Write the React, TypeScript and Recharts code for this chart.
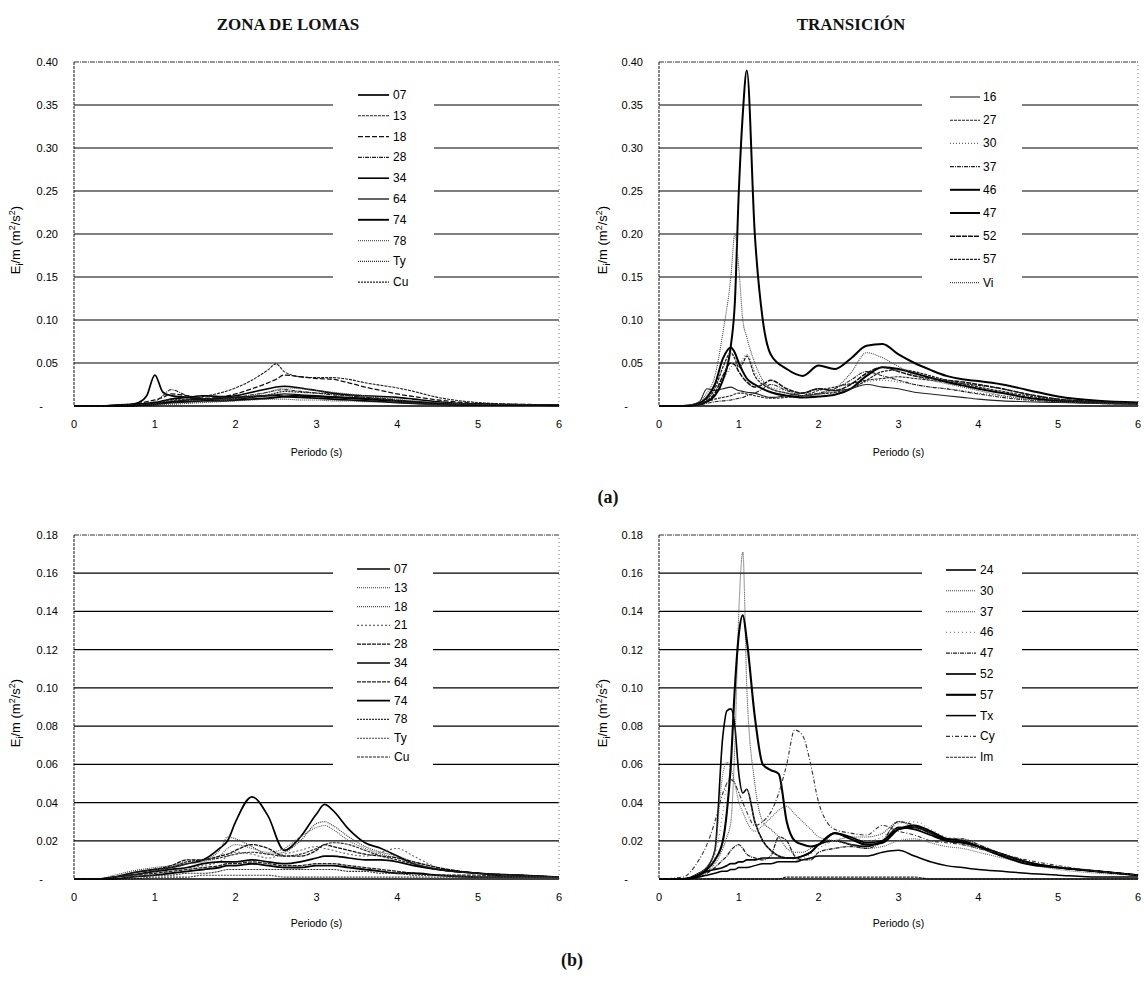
import React from 'react';
import { LineChart, Line, XAxis, YAxis, ReferenceLine } from 'recharts';

const SANS = '"Liberation Sans", Arial, Helvetica, sans-serif';
const SERIF = '"Liberation Serif", "Times New Roman", serif';

// ---------- (a) Zona de Lomas ----------
const periodsLomasA = [0, 0.3, 0.5, 0.7, 0.8, 0.9, 1.0, 1.1, 1.2, 1.4, 1.6, 1.8, 2.0, 2.2, 2.4, 2.5, 2.6, 2.8, 3.0, 3.2, 3.4, 3.6, 3.8, 4.0, 4.2, 4.5, 5.0, 5.5, 6.0];
const namesLomasA = ['07', '13', '18', '28', '34', '64', '74', '78', 'Ty', 'Cu'];
const lomasA_07 = [0, 0, 0.001, 0.002, 0.004, 0.012, 0.036, 0.016, 0.012, 0.01, 0.008, 0.009, 0.01, 0.011, 0.012, 0.012, 0.011, 0.01, 0.009, 0.008, 0.007, 0.006, 0.005, 0.004, 0.003, 0.002, 0.001, 0.001, 0.001];
const lomasA_13 = [0, 0, 0, 0.001, 0.002, 0.003, 0.004, 0.005, 0.006, 0.008, 0.011, 0.015, 0.021, 0.03, 0.042, 0.049, 0.04, 0.034, 0.033, 0.033, 0.031, 0.027, 0.024, 0.021, 0.017, 0.01, 0.004, 0.002, 0.001];
const lomasA_18 = [0, 0, 0.001, 0.002, 0.003, 0.005, 0.007, 0.01, 0.014, 0.012, 0.009, 0.01, 0.014, 0.02, 0.027, 0.031, 0.036, 0.034, 0.032, 0.031, 0.027, 0.022, 0.018, 0.014, 0.011, 0.007, 0.003, 0.002, 0.001];
const lomasA_28 = [0, 0, 0, 0.001, 0.002, 0.003, 0.005, 0.012, 0.019, 0.012, 0.009, 0.008, 0.01, 0.013, 0.016, 0.018, 0.019, 0.017, 0.015, 0.013, 0.012, 0.01, 0.009, 0.007, 0.005, 0.003, 0.002, 0.001, 0.001];
const lomasA_34 = [0, 0, 0, 0.001, 0.002, 0.003, 0.004, 0.006, 0.008, 0.01, 0.012, 0.011, 0.012, 0.016, 0.02, 0.022, 0.023, 0.021, 0.018, 0.015, 0.013, 0.012, 0.011, 0.01, 0.008, 0.005, 0.002, 0.001, 0.001];
const lomasA_64 = [0, 0, 0, 0.001, 0.001, 0.002, 0.003, 0.004, 0.005, 0.007, 0.008, 0.007, 0.008, 0.01, 0.012, 0.013, 0.014, 0.013, 0.012, 0.011, 0.01, 0.009, 0.008, 0.006, 0.005, 0.003, 0.002, 0.001, 0.001];
const lomasA_74 = [0, 0, 0, 0, 0.001, 0.001, 0.002, 0.003, 0.004, 0.005, 0.006, 0.006, 0.007, 0.008, 0.009, 0.01, 0.011, 0.012, 0.011, 0.01, 0.009, 0.008, 0.007, 0.006, 0.005, 0.003, 0.002, 0.001, 0.001];
const lomasA_78 = [0, 0, 0, 0, 0.001, 0.001, 0.002, 0.002, 0.003, 0.004, 0.005, 0.006, 0.008, 0.012, 0.016, 0.019, 0.021, 0.02, 0.018, 0.016, 0.014, 0.012, 0.01, 0.008, 0.006, 0.004, 0.002, 0.001, 0.001];
const lomasA_Ty = [0, 0, 0, 0, 0, 0.001, 0.001, 0.002, 0.002, 0.003, 0.004, 0.005, 0.006, 0.007, 0.008, 0.008, 0.008, 0.007, 0.007, 0.006, 0.006, 0.005, 0.005, 0.004, 0.003, 0.002, 0.001, 0.001, 0];
const lomasA_Cu = [0, 0, 0, 0.001, 0.001, 0.002, 0.003, 0.005, 0.008, 0.006, 0.007, 0.01, 0.009, 0.011, 0.013, 0.015, 0.017, 0.016, 0.015, 0.014, 0.012, 0.01, 0.008, 0.006, 0.004, 0.002, 0.001, 0.001, 0];

// ---------- (a) Transición ----------
const periodsTransA = [0, 0.3, 0.5, 0.6, 0.7, 0.8, 0.9, 0.95, 1.0, 1.05, 1.1, 1.2, 1.3, 1.4, 1.6, 1.8, 2.0, 2.2, 2.4, 2.6, 2.8, 3.0, 3.2, 3.4, 3.6, 3.8, 4.0, 4.3, 4.6, 5.0, 5.5, 6.0];
const namesTransA = ['16', '27', '30', '37', '46', '47', '52', '57', 'Vi'];
const transA_16 = [0, 0, 0.004, 0.02, 0.018, 0.02, 0.022, 0.02, 0.018, 0.017, 0.016, 0.015, 0.012, 0.01, 0.012, 0.015, 0.02, 0.018, 0.02, 0.025, 0.022, 0.02, 0.016, 0.014, 0.012, 0.01, 0.008, 0.006, 0.005, 0.004, 0.003, 0.002];
const transA_27 = [0, 0, 0.002, 0.005, 0.008, 0.01, 0.012, 0.014, 0.015, 0.015, 0.014, 0.012, 0.01, 0.009, 0.01, 0.012, 0.018, 0.022, 0.026, 0.03, 0.032, 0.034, 0.032, 0.03, 0.028, 0.026, 0.024, 0.02, 0.014, 0.008, 0.005, 0.003];
const transA_30 = [0, 0, 0.003, 0.008, 0.015, 0.03, 0.045, 0.05, 0.045, 0.055, 0.06, 0.04, 0.028, 0.022, 0.018, 0.015, 0.014, 0.015, 0.02, 0.028, 0.03, 0.028, 0.025, 0.022, 0.02, 0.018, 0.015, 0.012, 0.009, 0.006, 0.004, 0.003];
const transA_37 = [0, 0, 0.001, 0.003, 0.005, 0.006, 0.007, 0.008, 0.009, 0.01, 0.012, 0.015, 0.02, 0.025, 0.018, 0.012, 0.015, 0.02, 0.03, 0.04, 0.035, 0.03, 0.025, 0.022, 0.02, 0.017, 0.014, 0.01, 0.007, 0.005, 0.003, 0.002];
const transA_46 = [0, 0, 0.002, 0.005, 0.012, 0.03, 0.07, 0.12, 0.25, 0.34, 0.39, 0.2, 0.1, 0.06, 0.043, 0.035, 0.047, 0.043, 0.055, 0.07, 0.072, 0.06, 0.05, 0.042, 0.035, 0.031, 0.029, 0.025, 0.019, 0.011, 0.006, 0.004];
const transA_47 = [0, 0, 0.003, 0.01, 0.025, 0.055, 0.068, 0.062, 0.05, 0.04, 0.032, 0.025, 0.02, 0.016, 0.012, 0.01, 0.011, 0.013, 0.02, 0.035, 0.045, 0.043, 0.038, 0.033, 0.028, 0.024, 0.02, 0.015, 0.01, 0.006, 0.004, 0.003];
const transA_52 = [0, 0, 0.002, 0.006, 0.015, 0.035, 0.05, 0.048, 0.04, 0.033, 0.028, 0.022, 0.025, 0.03, 0.02, 0.015, 0.02, 0.018, 0.025, 0.038, 0.045, 0.04, 0.035, 0.032, 0.03, 0.028, 0.025, 0.02, 0.014, 0.008, 0.005, 0.003];
const transA_57 = [0, 0, 0.002, 0.008, 0.02, 0.045, 0.062, 0.055, 0.045, 0.05, 0.058, 0.035, 0.025, 0.02, 0.015, 0.012, 0.014, 0.016, 0.02, 0.03, 0.04, 0.042, 0.04, 0.035, 0.03, 0.026, 0.022, 0.017, 0.012, 0.007, 0.004, 0.003];
const transA_Vi = [0, 0, 0.005, 0.015, 0.035, 0.085, 0.15, 0.2, 0.16, 0.1, 0.08, 0.05, 0.03, 0.02, 0.015, 0.012, 0.014, 0.02, 0.038, 0.062, 0.056, 0.046, 0.036, 0.03, 0.026, 0.022, 0.018, 0.012, 0.008, 0.005, 0.003, 0.002];

// ---------- (b) Zona de Lomas ----------
const periodsLomasB = [0, 0.3, 0.5, 0.7, 1.0, 1.2, 1.4, 1.6, 1.8, 1.9, 2.0, 2.2, 2.4, 2.6, 2.8, 3.0, 3.1, 3.2, 3.4, 3.6, 3.8, 4.0, 4.2, 4.5, 5.0, 5.5, 6.0];
const namesLomasB = ['07', '13', '18', '21', '28', '34', '64', '74', '78', 'Ty', 'Cu'];
const lomasB_07 = [0, 0, 0.001, 0.003, 0.005, 0.006, 0.008, 0.01, 0.016, 0.02, 0.03, 0.043, 0.033, 0.015, 0.022, 0.034, 0.039, 0.036, 0.026, 0.019, 0.016, 0.012, 0.008, 0.005, 0.003, 0.001, 0.001];
const lomasB_13 = [0, 0, 0.002, 0.004, 0.006, 0.007, 0.009, 0.01, 0.015, 0.022, 0.021, 0.017, 0.013, 0.014, 0.02, 0.029, 0.03, 0.028, 0.022, 0.017, 0.014, 0.012, 0.009, 0.006, 0.003, 0.002, 0.001];
const lomasB_18 = [0, 0, 0.001, 0.003, 0.005, 0.006, 0.008, 0.009, 0.012, 0.016, 0.018, 0.016, 0.014, 0.016, 0.022, 0.027, 0.028, 0.026, 0.02, 0.016, 0.013, 0.011, 0.008, 0.005, 0.003, 0.002, 0.001];
const lomasB_21 = [0, 0, 0.001, 0.002, 0.004, 0.005, 0.006, 0.007, 0.009, 0.012, 0.014, 0.013, 0.011, 0.013, 0.015, 0.017, 0.016, 0.015, 0.013, 0.012, 0.014, 0.016, 0.012, 0.006, 0.003, 0.002, 0.001];
const lomasB_28 = [0, 0, 0.001, 0.003, 0.005, 0.007, 0.01, 0.01, 0.012, 0.013, 0.015, 0.018, 0.016, 0.012, 0.012, 0.015, 0.018, 0.017, 0.015, 0.013, 0.012, 0.011, 0.009, 0.006, 0.003, 0.002, 0.001];
const lomasB_34 = [0, 0, 0.001, 0.002, 0.004, 0.005, 0.006, 0.008, 0.009, 0.009, 0.009, 0.01, 0.009, 0.008, 0.009, 0.011, 0.012, 0.012, 0.011, 0.01, 0.01, 0.009, 0.007, 0.005, 0.003, 0.002, 0.001];
const lomasB_64 = [0, 0, 0.001, 0.002, 0.003, 0.004, 0.005, 0.006, 0.007, 0.008, 0.008, 0.009, 0.008, 0.007, 0.007, 0.008, 0.008, 0.008, 0.007, 0.006, 0.005, 0.004, 0.003, 0.002, 0.002, 0.001, 0.001];
const lomasB_74 = [0, 0, 0, 0.001, 0.002, 0.003, 0.004, 0.005, 0.006, 0.007, 0.007, 0.008, 0.007, 0.006, 0.006, 0.007, 0.007, 0.007, 0.006, 0.005, 0.004, 0.003, 0.003, 0.002, 0.001, 0.001, 0.001];
const lomasB_78 = [0, 0, 0, 0.001, 0.002, 0.002, 0.003, 0.003, 0.004, 0.005, 0.005, 0.005, 0.005, 0.005, 0.005, 0.005, 0.005, 0.005, 0.004, 0.004, 0.003, 0.003, 0.002, 0.002, 0.001, 0.001, 0.001];
const lomasB_Ty = [0, 0, 0, 0, 0.001, 0.001, 0.001, 0.002, 0.002, 0.002, 0.002, 0.002, 0.002, 0.001, 0.001, 0.001, 0.001, 0.001, 0.001, 0.001, 0.001, 0.001, 0.001, 0.001, 0.001, 0.001, 0.001];
const lomasB_Cu = [0, 0, 0.001, 0.002, 0.004, 0.006, 0.009, 0.01, 0.011, 0.012, 0.013, 0.014, 0.013, 0.012, 0.013, 0.016, 0.018, 0.019, 0.018, 0.015, 0.012, 0.01, 0.008, 0.005, 0.003, 0.002, 0.001];

// ---------- (b) Transición ----------
const periodsTransB = [0, 0.3, 0.5, 0.6, 0.7, 0.8, 0.85, 0.9, 0.95, 1.0, 1.05, 1.1, 1.2, 1.3, 1.4, 1.5, 1.6, 1.7, 1.8, 1.9, 2.0, 2.2, 2.4, 2.6, 2.8, 3.0, 3.2, 3.4, 3.6, 3.8, 4.0, 4.3, 4.6, 5.0, 5.5, 6.0];
const namesTransB = ['24', '30', '37', '46', '47', '52', '57', 'Tx', 'Cy', 'Im'];
const transB_24 = [0, 0, 0.003, 0.006, 0.015, 0.075, 0.088, 0.089, 0.08, 0.055, 0.045, 0.047, 0.03, 0.02, 0.015, 0.012, 0.011, 0.011, 0.012, 0.014, 0.018, 0.02, 0.018, 0.017, 0.02, 0.026, 0.027, 0.024, 0.02, 0.019, 0.017, 0.013, 0.009, 0.006, 0.004, 0.002];
const transB_30 = [0, 0, 0.002, 0.004, 0.008, 0.016, 0.022, 0.03, 0.07, 0.14, 0.171, 0.1, 0.05, 0.03, 0.026, 0.022, 0.016, 0.014, 0.014, 0.016, 0.018, 0.02, 0.022, 0.022, 0.024, 0.03, 0.027, 0.023, 0.02, 0.018, 0.016, 0.012, 0.009, 0.006, 0.004, 0.002];
const transB_37 = [0, 0, 0.003, 0.006, 0.015, 0.055, 0.061, 0.058, 0.05, 0.04, 0.035, 0.03, 0.025, 0.028, 0.032, 0.036, 0.038, 0.034, 0.03, 0.026, 0.022, 0.02, 0.018, 0.016, 0.017, 0.02, 0.021, 0.019, 0.017, 0.016, 0.014, 0.011, 0.008, 0.005, 0.003, 0.002];
const transB_46 = [0, 0, 0.002, 0.005, 0.012, 0.035, 0.05, 0.054, 0.05, 0.045, 0.046, 0.047, 0.03, 0.02, 0.015, 0.012, 0.011, 0.01, 0.011, 0.013, 0.016, 0.02, 0.022, 0.02, 0.022, 0.029, 0.03, 0.026, 0.022, 0.021, 0.018, 0.013, 0.009, 0.006, 0.004, 0.002];
const transB_47 = [0, 0, 0.001, 0.003, 0.006, 0.01, 0.012, 0.015, 0.017, 0.018, 0.016, 0.013, 0.011, 0.01, 0.012, 0.022, 0.02, 0.012, 0.01, 0.01, 0.014, 0.016, 0.017, 0.016, 0.02, 0.03, 0.028, 0.024, 0.021, 0.021, 0.018, 0.013, 0.009, 0.006, 0.004, 0.002];
const transB_52 = [0, 0, 0.002, 0.004, 0.005, 0.006, 0.007, 0.008, 0.008, 0.009, 0.009, 0.01, 0.01, 0.011, 0.011, 0.011, 0.011, 0.011, 0.012, 0.014, 0.018, 0.024, 0.022, 0.019, 0.02, 0.027, 0.026, 0.023, 0.02, 0.019, 0.017, 0.013, 0.009, 0.006, 0.004, 0.002];
const transB_57 = [0, 0, 0.002, 0.005, 0.01, 0.02, 0.035, 0.06, 0.1, 0.128, 0.138, 0.125, 0.085, 0.06, 0.057, 0.055, 0.03, 0.02, 0.018, 0.017, 0.018, 0.024, 0.021, 0.018, 0.019, 0.026, 0.028, 0.025, 0.021, 0.02, 0.017, 0.012, 0.008, 0.006, 0.004, 0.002];
const transB_Tx = [0, 0, 0.001, 0.002, 0.003, 0.004, 0.004, 0.005, 0.005, 0.006, 0.006, 0.006, 0.007, 0.008, 0.008, 0.009, 0.009, 0.009, 0.01, 0.011, 0.012, 0.012, 0.012, 0.012, 0.014, 0.015, 0.012, 0.009, 0.007, 0.006, 0.005, 0.004, 0.003, 0.002, 0.001, 0.001];
const transB_Cy = [0, 0.001, 0.01, 0.018, 0.03, 0.045, 0.05, 0.052, 0.05, 0.045, 0.04, 0.035, 0.028, 0.03, 0.035, 0.045, 0.06, 0.078, 0.075, 0.06, 0.04, 0.026, 0.024, 0.023, 0.028, 0.025, 0.023, 0.02, 0.019, 0.018, 0.016, 0.013, 0.01, 0.007, 0.004, 0.002];
const transB_Im = [0, 0, 0, 0, 0, 0, 0, 0, 0, 0, 0, 0, 0, 0, 0, 0, 0.001, 0.001, 0.001, 0.001, 0.001, 0.001, 0.001, 0.001, 0.001, 0.001, 0.001, 0, 0, 0, 0, 0, 0, 0, 0, 0];

const xTicks = [0, 1, 2, 3, 4, 5, 6];
const yTicksA = [0, 0.05, 0.1, 0.15, 0.2, 0.25, 0.3, 0.35, 0.4];
const yTicksB = [0, 0.02, 0.04, 0.06, 0.08, 0.1, 0.12, 0.14, 0.16, 0.18];

type Sty = { stroke: string; width: number; dash?: string };

const stylesLomasA: Sty[] = [
  { stroke: '#000', width: 1.7 },
  { stroke: '#222', width: 1.1, dash: '3 1' },
  { stroke: '#111', width: 1.3, dash: '5 2' },
  { stroke: '#222', width: 1.1, dash: '4 1 1 1' },
  { stroke: '#000', width: 1.6 },
  { stroke: '#111', width: 1.3 },
  { stroke: '#000', width: 1.9 },
  { stroke: '#555', width: 1.1, dash: '1 1' },
  { stroke: '#333', width: 1.1, dash: '1 1' },
  { stroke: '#222', width: 1.3, dash: '2 1' },
];
const stylesTransA: Sty[] = [
  { stroke: '#222', width: 1.1 },
  { stroke: '#222', width: 1.1, dash: '3 1' },
  { stroke: '#666', width: 1.1, dash: '1 2' },
  { stroke: '#222', width: 1.1, dash: '4 1 1 1' },
  { stroke: '#000', width: 2 },
  { stroke: '#000', width: 2 },
  { stroke: '#111', width: 1.5, dash: '5 1' },
  { stroke: '#222', width: 1.3, dash: '3 1' },
  { stroke: '#444', width: 1.1, dash: '1 1' },
];
const stylesLomasB: Sty[] = [
  { stroke: '#000', width: 1.7 },
  { stroke: '#333', width: 1.1, dash: '1 1' },
  { stroke: '#555', width: 1.1, dash: '1 1' },
  { stroke: '#666', width: 1.1, dash: '2 2' },
  { stroke: '#111', width: 1.3, dash: '4 1' },
  { stroke: '#000', width: 1.7 },
  { stroke: '#222', width: 1.3, dash: '4 1' },
  { stroke: '#000', width: 1.9 },
  { stroke: '#333', width: 1.1, dash: '2 1' },
  { stroke: '#444', width: 1.1, dash: '2 1' },
  { stroke: '#222', width: 1.1, dash: '3 1' },
];
const stylesTransB: Sty[] = [
  { stroke: '#000', width: 1.6 },
  { stroke: '#444', width: 1.1, dash: '1 1' },
  { stroke: '#666', width: 1.1, dash: '1 1' },
  { stroke: '#888', width: 1.1, dash: '1 3' },
  { stroke: '#222', width: 1.3, dash: '4 1 1 1' },
  { stroke: '#000', width: 1.7 },
  { stroke: '#000', width: 2.1 },
  { stroke: '#000', width: 1.5 },
  { stroke: '#333', width: 1.1, dash: '4 2 1 2' },
  { stroke: '#222', width: 1.1, dash: '3 1' },
];

function YTick(props: any) {
  const { x, y, payload } = props;
  const v = payload.value as number;
  return (
    <text x={v === 0 ? x - 15 : x} y={y} dy={4} textAnchor="end" fontFamily={SANS} fontSize={11} fill="#000">
      {v === 0 ? '-' : v.toFixed(2)}
    </text>
  );
}

type PanelProps = {
  left: number; top: number; width: number; height: number;
  plotLeft: number; plotRight: number; plotTop: number; plotBottom: number;
  xAxisH: number; yMax: number; yTicks: number[];
  periods: number[]; series: number[][]; styles: Sty[];
  yLabelX: number;
};

function Panel(p: PanelProps) {
  const rows = p.periods.map((per, i) => {
    const r: any = { p: per };
    p.series.forEach((s, j) => { r['s' + j] = s[i]; });
    return r;
  });
  const margin = {
    top: p.plotTop - p.top,
    right: p.left + p.width - p.plotRight,
    bottom: p.top + p.height - p.plotBottom - p.xAxisH,
    left: 0,
  };
  const cy = (p.plotTop + p.plotBottom) / 2 - p.top + 6;
  const cx = p.yLabelX;
  const yLabel = () => (
    <text x={cx} y={cy} transform={`rotate(-90 ${cx} ${cy})`} textAnchor="middle" fontFamily={SANS} fontSize={13} fill="#000">
      E<tspan dy={3} fontSize={9}>i</tspan><tspan dy={-3}>/m (m</tspan><tspan dy={-5} fontSize={9}>2</tspan><tspan dy={5}>/s</tspan><tspan dy={-5} fontSize={9}>2</tspan><tspan dy={5}>)</tspan>
    </text>
  );
  return (
    <div style={{ position: 'absolute', left: p.left, top: p.top, width: p.width, height: p.height }}>
      <LineChart width={p.width} height={p.height} data={rows} margin={margin}>
        <XAxis
          dataKey="p" type="number" domain={[0, 6]} ticks={xTicks} interval={0}
          height={p.xAxisH} tickLine={false} tickMargin={8}
          axisLine={{ stroke: '#000', strokeWidth: 1.6 }}
          tick={{ fontSize: 11, fill: '#000', fontFamily: SANS }}
          label={{ value: 'Periodo (s)', position: 'insideBottom', offset: 0, style: { fontSize: 10.5, fill: '#000', fontFamily: SANS } }}
        />
        <YAxis
          type="number" domain={[0, p.yMax]} ticks={p.yTicks} interval={0}
          width={p.plotLeft - p.left} tickLine={false} tickMargin={10}
          axisLine={{ stroke: '#111', strokeDasharray: '3 1' }}
          tick={<YTick />}
          label={yLabel}
        />
        {p.yTicks.slice(1, -1).map((v) => (
          <ReferenceLine key={v} y={v} stroke="#000" strokeWidth={1.2} />
        ))}
        <ReferenceLine y={p.yMax} stroke="#333" strokeDasharray="5 1 1 1" />
        <ReferenceLine x={6} stroke="#777" strokeDasharray="1 3" />
        {p.series.map((_, j) => (
          <Line
            key={j} type="monotone" dataKey={'s' + j} dot={false} activeDot={false}
            isAnimationActive={false} stroke={p.styles[j].stroke}
            strokeWidth={p.styles[j].width} strokeDasharray={p.styles[j].dash}
          />
        ))}
      </LineChart>
    </div>
  );
}

type LegendProps = {
  x: number; y: number; w: number; h: number;
  firstY: number; step: number; lineX1: number; lineX2: number; textX: number;
  names: string[]; styles: Sty[];
};

function LegendBox(l: LegendProps) {
  return (
    <div style={{ position: 'absolute', left: l.x, top: l.y, width: l.w, height: l.h, background: '#fff' }}>
      <svg width={l.w} height={l.h}>
        {l.names.map((n, i) => {
          const yy = l.firstY - l.y + i * l.step;
          const s = l.styles[i];
          return (
            <g key={n}>
              <line x1={l.lineX1 - l.x} x2={l.lineX2 - l.x} y1={yy} y2={yy} stroke={s.stroke} strokeWidth={s.width} strokeDasharray={s.dash} />
              <text x={l.textX - l.x} y={yy} dy={4} fontFamily={SANS} fontSize={12} fill="#000">{n}</text>
            </g>
          );
        })}
      </svg>
    </div>
  );
}

function Heading({ text, cx, cy, size }: { text: string; cx: number; cy: number; size: number }) {
  return (
    <div style={{ position: 'absolute', left: cx - 150, top: cy - 14, width: 300, height: 28, lineHeight: '28px', textAlign: 'center', fontFamily: SERIF, fontWeight: 'bold', fontSize: size, color: '#111' }}>
      {text}
    </div>
  );
}

export default function App() {
  return (
    <div style={{ position: 'absolute', left: 0, top: 0, width: 1144, height: 985, background: '#fff', overflow: 'hidden' }}>
      <Heading text="ZONA DE LOMAS" cx={288} cy={25} size={17} />
      <Heading text="TRANSICIÓN" cx={851} cy={25} size={17} />

      <Panel left={0} top={0} width={580} height={470} plotLeft={74} plotRight={559} plotTop={62} plotBottom={406}
        xAxisH={50} yMax={0.4} yTicks={yTicksA} periods={periodsLomasA}
        series={[lomasA_07, lomasA_13, lomasA_18, lomasA_28, lomasA_34, lomasA_64, lomasA_74, lomasA_78, lomasA_Ty, lomasA_Cu]}
        styles={stylesLomasA} yLabelX={20} />
      <Panel left={580} top={0} width={564} height={470} plotLeft={659} plotRight={1138} plotTop={62} plotBottom={406}
        xAxisH={50} yMax={0.4} yTicks={yTicksA} periods={periodsTransA}
        series={[transA_16, transA_27, transA_30, transA_37, transA_46, transA_47, transA_52, transA_57, transA_Vi]}
        styles={stylesTransA} yLabelX={27} />
      <Panel left={0} top={470} width={580} height={480} plotLeft={74} plotRight={559} plotTop={535} plotBottom={879}
        xAxisH={48} yMax={0.18} yTicks={yTicksB} periods={periodsLomasB}
        series={[lomasB_07, lomasB_13, lomasB_18, lomasB_21, lomasB_28, lomasB_34, lomasB_64, lomasB_74, lomasB_78, lomasB_Ty, lomasB_Cu]}
        styles={stylesLomasB} yLabelX={20} />
      <Panel left={580} top={470} width={564} height={480} plotLeft={659} plotRight={1138} plotTop={535} plotBottom={879}
        xAxisH={48} yMax={0.18} yTicks={yTicksB} periods={periodsTransB}
        series={[transB_24, transB_30, transB_37, transB_46, transB_47, transB_52, transB_57, transB_Tx, transB_Cy, transB_Im]}
        styles={stylesTransB} yLabelX={27} />

      <LegendBox x={333} y={82} w={101} h={213} firstY={95} step={20.8} lineX1={358} lineX2={389} textX={393} names={namesLomasA} styles={stylesLomasA} />
      <LegendBox x={922} y={82} w={100} h={213} firstY={97} step={23.2} lineX1={950} lineX2={980} textX={983} names={namesTransA} styles={stylesTransA} />
      <LegendBox x={333} y={555} w={100} h={220} firstY={569} step={18.8} lineX1={357} lineX2={390} textX={394} names={namesLomasB} styles={stylesLomasB} />
      <LegendBox x={922} y={555} w={100} h={220} firstY={570} step={20.8} lineX1={946} lineX2={976} textX={980} names={namesTransB} styles={stylesTransB} />

      <Heading text="(a)" cx={608} cy={497} size={18} />
      <Heading text="(b)" cx={572} cy={960} size={18} />
    </div>
  );
}
